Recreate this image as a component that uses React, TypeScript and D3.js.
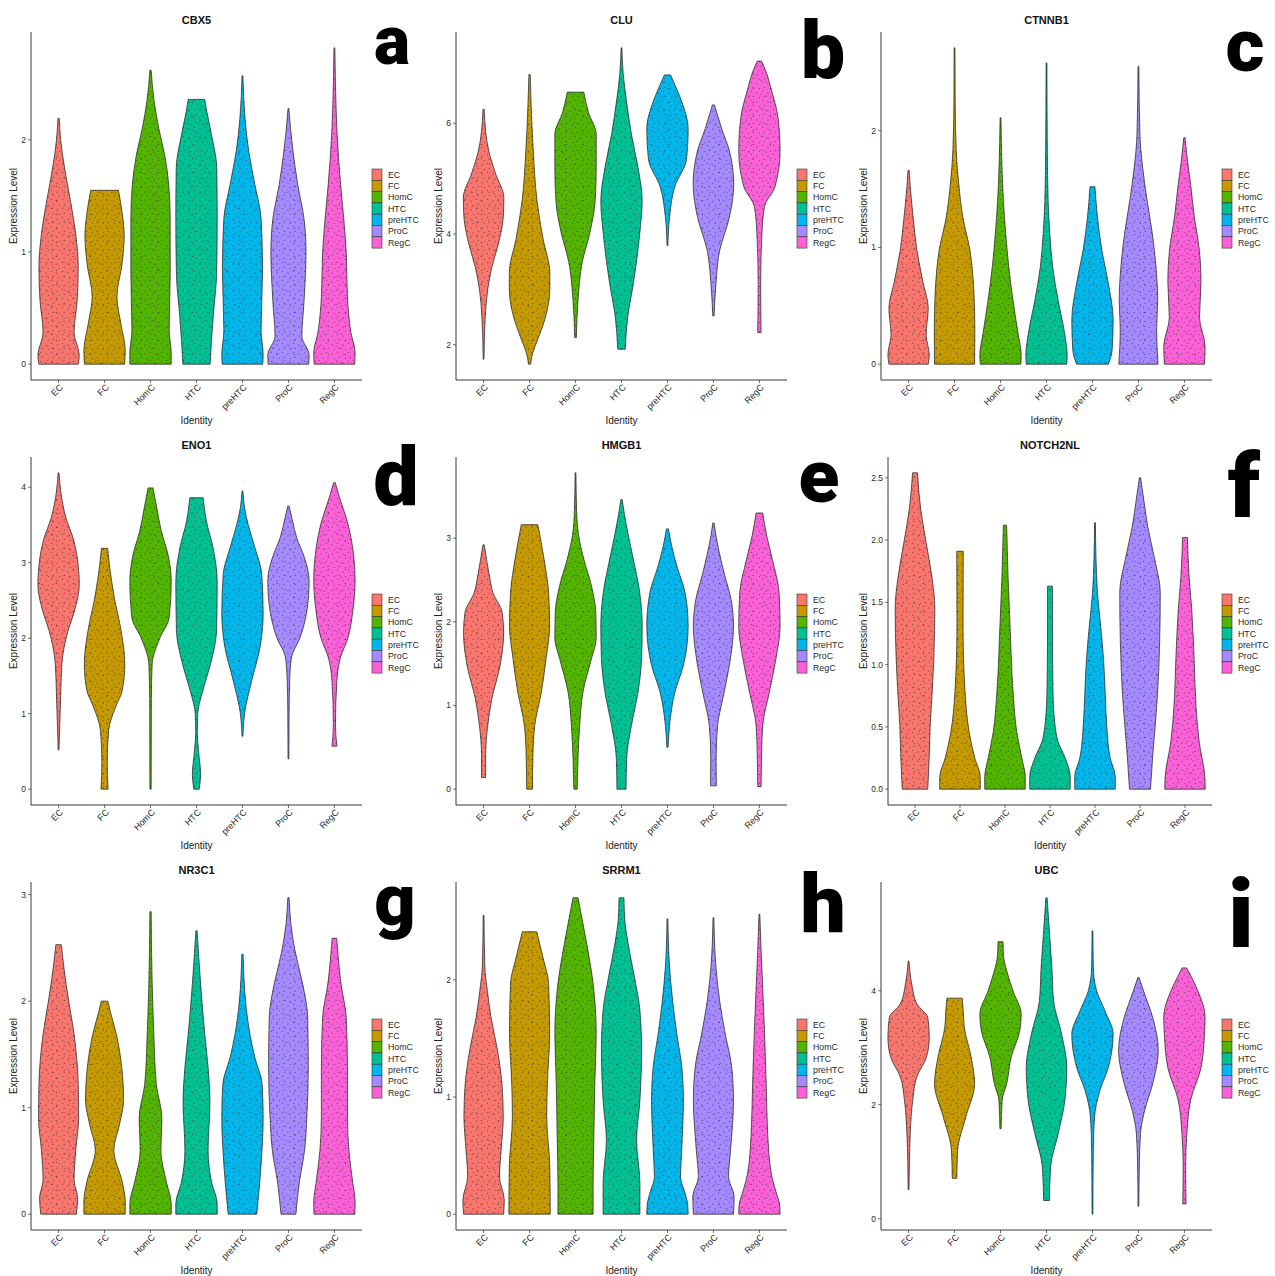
import React from "react";
import * as d3 from "d3";

// cell identities and ggplot default hue palette
const CELL_TYPES = ["EC", "FC", "HomC", "HTC", "preHTC", "ProC", "RegC"];
const CELL_COLORS = ["#F8766D", "#C49A00", "#53B400", "#00C094", "#00B6EB", "#A58AFF", "#FB61D7"];

const GENES = ["CBX5", "CLU", "CTNNB1", "ENO1", "HMGB1", "NOTCH2NL", "NR3C1", "SRRM1", "UBC"];
const PANEL_LETTERS = ["a", "b", "c", "d", "e", "f", "g", "h", "i"];
const Y_TICKS = [
  [0, 1, 2],
  [2, 4, 6],
  [0, 1, 2],
  [0, 1, 2, 3, 4],
  [0, 1, 2, 3],
  [0, 0.5, 1, 1.5, 2, 2.5],
  [0, 1, 2, 3],
  [0, 1, 2],
  [0, 2, 4],
];

// violin outlines, one per cell type: [expression level, relative half width], bottom -> top
const CBX5 = [
  [[0, 0.95], [0.08, 1.0], [0.28, 0.75], [0.57, 0.9], [0.87, 0.95], [1.16, 0.83], [1.46, 0.57], [1.76, 0.28], [2.0, 0.1], [2.19, 0.03]],
  [[0, 0.97], [0.12, 1.0], [0.35, 0.8], [0.6, 0.6], [0.9, 0.85], [1.15, 0.95], [1.35, 0.85], [1.55, 0.67]],
  [[0, 1.0], [0.1, 1.0], [0.3, 0.9], [0.8, 0.95], [1.3, 0.95], [1.6, 0.88], [1.85, 0.7], [2.1, 0.4], [2.35, 0.17], [2.62, 0.03]],
  [[0, 0.66], [0.2, 0.72], [0.45, 0.82], [0.8, 0.97], [1.3, 1.0], [1.75, 0.98], [2.05, 0.72], [2.25, 0.5], [2.36, 0.4]],
  [[0, 0.98], [0.08, 1.0], [0.3, 0.9], [0.85, 0.97], [1.3, 0.9], [1.6, 0.6], [1.9, 0.3], [2.2, 0.12], [2.57, 0.02]],
  [[0, 0.98], [0.08, 1.0], [0.25, 0.65], [0.55, 0.75], [1.0, 0.85], [1.3, 0.75], [1.6, 0.45], [1.9, 0.22], [2.1, 0.1], [2.28, 0.02]],
  [[0, 0.98], [0.1, 1.0], [0.28, 0.8], [0.6, 0.63], [1.0, 0.57], [1.3, 0.45], [1.6, 0.3], [2.05, 0.13], [2.5, 0.05], [2.82, 0.02]],
];

const CLU = [
  [[1.74, 0.02], [2.5, 0.08], [3.0, 0.2], [3.4, 0.4], [3.8, 0.7], [4.3, 0.95], [4.65, 0.98], [5.1, 0.57], [5.5, 0.25], [5.85, 0.1], [6.25, 0.03]],
  [[1.65, 0.05], [1.85, 0.15], [2.1, 0.4], [2.5, 0.77], [3.0, 0.98], [3.3, 0.98], [3.9, 0.66], [4.6, 0.36], [5.5, 0.18], [6.4, 0.07], [6.88, 0.03]],
  [[2.13, 0.04], [2.8, 0.12], [3.5, 0.33], [4.0, 0.68], [4.6, 0.95], [5.2, 1.0], [5.8, 1.0], [6.2, 0.62], [6.56, 0.4]],
  [[1.92, 0.18], [2.5, 0.3], [3.1, 0.57], [4.0, 0.88], [4.6, 1.0], [5.2, 0.8], [5.8, 0.48], [6.4, 0.24], [6.9, 0.08], [7.36, 0.02]],
  [[3.79, 0.02], [4.3, 0.1], [4.85, 0.35], [5.35, 0.92], [5.9, 1.0], [6.4, 0.68], [6.7, 0.35], [6.87, 0.15]],
  [[2.52, 0.03], [3.1, 0.12], [3.7, 0.3], [4.3, 0.77], [4.9, 0.98], [5.5, 0.77], [5.9, 0.4], [6.2, 0.15], [6.33, 0.05]],
  [[2.22, 0.08], [3.1, 0.06], [4.0, 0.12], [4.5, 0.25], [4.85, 0.75], [5.5, 1.0], [6.1, 0.9], [6.6, 0.58], [6.95, 0.3], [7.12, 0.1]],
];

const CTNNB1 = [
  [[0, 0.95], [0.08, 1.0], [0.25, 0.85], [0.48, 0.95], [0.7, 0.7], [0.98, 0.4], [1.26, 0.22], [1.52, 0.08], [1.66, 0.03]],
  [[0, 0.97], [0.3, 0.98], [0.6, 0.94], [0.98, 0.74], [1.26, 0.4], [1.55, 0.2], [1.83, 0.08], [2.26, 0.03], [2.71, 0.02]],
  [[0, 0.98], [0.08, 1.0], [0.26, 0.85], [0.55, 0.6], [0.83, 0.4], [1.12, 0.25], [1.4, 0.14], [1.69, 0.07], [2.11, 0.02]],
  [[0, 0.98], [0.08, 1.0], [0.26, 0.88], [0.55, 0.56], [0.83, 0.3], [1.12, 0.16], [1.4, 0.08], [1.83, 0.04], [2.58, 0.02]],
  [[0, 0.77], [0.12, 0.95], [0.38, 1.0], [0.69, 0.77], [0.98, 0.45], [1.26, 0.24], [1.52, 0.12]],
  [[0, 0.95], [0.15, 0.9], [0.3, 0.88], [0.55, 0.93], [0.83, 0.85], [1.12, 0.67], [1.4, 0.42], [1.69, 0.2], [1.97, 0.07], [2.55, 0.02]],
  [[0, 0.97], [0.15, 1.0], [0.4, 0.73], [0.7, 0.8], [0.98, 0.72], [1.26, 0.48], [1.54, 0.3], [1.74, 0.15], [1.94, 0.03]],
];

const ENO1 = [
  [[0.52, 0.02], [0.8, 0.05], [1.22, 0.1], [1.66, 0.16], [2.1, 0.46], [2.36, 0.77], [2.71, 1.0], [2.9, 0.97], [3.3, 0.73], [3.6, 0.35], [3.95, 0.1], [4.19, 0.02]],
  [[0, 0.17], [0.35, 0.13], [0.78, 0.2], [1.1, 0.55], [1.3, 0.85], [1.66, 0.98], [2.1, 0.8], [2.54, 0.47], [2.98, 0.23], [3.19, 0.15]],
  [[0, 0.03], [1.2, 0.04], [1.66, 0.08], [2.0, 0.45], [2.27, 0.9], [2.76, 1.0], [3.1, 0.85], [3.42, 0.52], [3.73, 0.3], [3.99, 0.12]],
  [[0, 0.13], [0.2, 0.2], [0.45, 0.12], [0.75, 0.04], [1.0, 0.06], [1.3, 0.3], [1.66, 0.68], [2.1, 0.97], [2.75, 1.0], [3.2, 0.8], [3.55, 0.48], [3.86, 0.32]],
  [[0.7, 0.02], [1.0, 0.1], [1.44, 0.45], [1.88, 0.85], [2.32, 1.0], [2.85, 0.93], [3.2, 0.6], [3.5, 0.28], [3.73, 0.1], [3.95, 0.02]],
  [[0.4, 0.02], [1.0, 0.03], [1.44, 0.06], [1.75, 0.15], [2.0, 0.55], [2.36, 0.89], [2.76, 1.0], [3.07, 0.77], [3.33, 0.4], [3.55, 0.2], [3.75, 0.03]],
  [[0.57, 0.12], [0.85, 0.05], [1.44, 0.12], [1.75, 0.3], [2.0, 0.65], [2.36, 0.89], [2.76, 1.0], [3.2, 0.88], [3.55, 0.62], [3.86, 0.25], [4.06, 0.04]],
];

const HMGB1 = [
  [[0.14, 0.1], [0.4, 0.1], [0.76, 0.2], [1.08, 0.4], [1.48, 0.8], [1.87, 0.97], [2.11, 0.9], [2.35, 0.45], [2.55, 0.28], [2.75, 0.14], [2.92, 0.03]],
  [[0, 0.14], [0.37, 0.16], [0.76, 0.25], [1.16, 0.57], [1.56, 0.8], [1.95, 0.97], [2.35, 0.92], [2.75, 0.7], [3.16, 0.4]],
  [[0, 0.08], [0.37, 0.12], [0.76, 0.2], [1.16, 0.36], [1.56, 0.77], [1.8, 1.0], [2.11, 0.98], [2.43, 0.77], [2.75, 0.4], [3.03, 0.15], [3.35, 0.05], [3.78, 0.02]],
  [[0, 0.22], [0.37, 0.25], [0.76, 0.48], [1.16, 0.8], [1.56, 0.97], [1.95, 1.0], [2.35, 0.88], [2.75, 0.57], [3.07, 0.3], [3.27, 0.15], [3.46, 0.03]],
  [[0.5, 0.03], [0.76, 0.1], [1.16, 0.36], [1.48, 0.77], [1.95, 1.0], [2.35, 0.85], [2.67, 0.45], [2.91, 0.2], [3.11, 0.05]],
  [[0.04, 0.14], [0.37, 0.13], [0.76, 0.2], [1.08, 0.45], [1.48, 0.77], [1.95, 0.97], [2.27, 0.85], [2.55, 0.55], [2.83, 0.28], [3.03, 0.12], [3.18, 0.03]],
  [[0.03, 0.08], [0.37, 0.1], [0.76, 0.16], [1.16, 0.48], [1.56, 0.8], [1.95, 1.0], [2.35, 0.95], [2.75, 0.62], [3.03, 0.35], [3.3, 0.16]],
];

const NOTCH2NL = [
  [[0, 0.63], [0.25, 0.7], [0.51, 0.75], [0.78, 0.85], [1.05, 0.93], [1.45, 0.98], [1.71, 0.83], [1.98, 0.55], [2.25, 0.28], [2.54, 0.12]],
  [[0, 1.0], [0.1, 1.0], [0.25, 0.73], [0.46, 0.45], [0.78, 0.25], [1.31, 0.15], [1.91, 0.16]],
  [[0, 1.0], [0.1, 1.0], [0.25, 0.83], [0.46, 0.58], [0.78, 0.4], [1.31, 0.25], [1.71, 0.15], [2.12, 0.08]],
  [[0, 1.0], [0.1, 1.0], [0.25, 0.75], [0.38, 0.4], [0.51, 0.25], [0.78, 0.15], [1.31, 0.12], [1.63, 0.12]],
  [[0, 1.0], [0.1, 1.0], [0.25, 0.75], [0.51, 0.58], [0.78, 0.5], [1.05, 0.42], [1.31, 0.28], [1.58, 0.12], [1.85, 0.05], [2.14, 0.02]],
  [[0, 0.52], [0.25, 0.62], [0.51, 0.75], [0.78, 0.87], [1.18, 0.97], [1.58, 1.0], [1.85, 0.72], [2.11, 0.38], [2.33, 0.18], [2.5, 0.03]],
  [[0, 1.0], [0.1, 0.98], [0.38, 0.7], [0.65, 0.55], [1.05, 0.45], [1.45, 0.33], [1.71, 0.2], [2.02, 0.12]],
];

const NR3C1 = [
  [[0, 0.86], [0.15, 0.92], [0.32, 0.75], [0.6, 0.83], [0.9, 0.97], [1.22, 0.95], [1.69, 0.75], [2.0, 0.49], [2.31, 0.26], [2.53, 0.13]],
  [[0, 1.0], [0.12, 1.0], [0.3, 0.86], [0.6, 0.45], [0.85, 0.73], [1.07, 0.92], [1.38, 0.83], [1.69, 0.57], [1.9, 0.28], [2.0, 0.16]],
  [[0, 1.0], [0.1, 1.0], [0.3, 0.77], [0.6, 0.5], [0.9, 0.55], [1.22, 0.28], [1.69, 0.16], [2.16, 0.08], [2.84, 0.03]],
  [[0, 1.0], [0.1, 1.0], [0.3, 0.73], [0.6, 0.56], [1.05, 0.65], [1.38, 0.56], [1.69, 0.4], [2.16, 0.2], [2.66, 0.03]],
  [[0, 0.69], [0.16, 0.77], [0.44, 0.89], [0.91, 1.0], [1.22, 0.95], [1.47, 0.6], [1.69, 0.36], [2.0, 0.15], [2.44, 0.03]],
  [[0, 0.36], [0.29, 0.52], [0.6, 0.78], [0.91, 0.89], [1.38, 0.96], [1.85, 0.93], [2.16, 0.69], [2.47, 0.32], [2.72, 0.12], [2.97, 0.03]],
  [[0, 0.99], [0.12, 1.0], [0.29, 0.89], [0.6, 0.7], [0.91, 0.63], [1.38, 0.63], [1.85, 0.57], [2.16, 0.32], [2.59, 0.11]],
];

const SRRM1 = [
  [[0, 0.97], [0.12, 1.0], [0.32, 0.77], [0.55, 0.85], [0.83, 0.95], [1.11, 0.89], [1.4, 0.67], [1.68, 0.36], [1.91, 0.18], [2.11, 0.06], [2.55, 0.02]],
  [[0, 1.0], [0.4, 0.98], [0.83, 0.83], [1.11, 0.86], [1.54, 0.97], [1.97, 0.92], [2.19, 0.65], [2.41, 0.35]],
  [[0, 0.85], [0.26, 0.85], [0.69, 0.89], [1.11, 0.93], [1.54, 1.0], [1.97, 0.85], [2.25, 0.6], [2.48, 0.36], [2.7, 0.12]],
  [[0, 0.89], [0.26, 0.89], [0.63, 0.73], [0.97, 0.89], [1.4, 0.97], [1.74, 0.89], [2.02, 0.63], [2.31, 0.32], [2.53, 0.15], [2.7, 0.12]],
  [[0, 1.0], [0.08, 0.98], [0.18, 0.85], [0.32, 0.63], [0.55, 0.69], [0.97, 0.77], [1.26, 0.69], [1.54, 0.45], [1.82, 0.25], [2.11, 0.1], [2.52, 0.02]],
  [[0, 0.97], [0.15, 1.0], [0.32, 0.73], [0.55, 0.83], [0.97, 0.97], [1.26, 0.88], [1.54, 0.57], [1.82, 0.3], [2.11, 0.12], [2.53, 0.02]],
  [[0, 1.0], [0.08, 0.98], [0.18, 0.82], [0.35, 0.57], [0.69, 0.4], [1.11, 0.33], [1.54, 0.25], [1.97, 0.15], [2.25, 0.08], [2.56, 0.02]],
];

const UBC = [
  [[0.51, 0.02], [1.0, 0.04], [1.5, 0.08], [2.08, 0.2], [2.49, 0.4], [2.84, 0.87], [3.18, 1.0], [3.53, 0.93], [3.77, 0.4], [4.12, 0.15], [4.52, 0.02]],
  [[0.71, 0.11], [1.2, 0.15], [1.79, 0.55], [2.37, 0.97], [2.84, 0.8], [3.36, 0.47], [3.65, 0.42], [3.87, 0.37]],
  [[1.58, 0.03], [2.08, 0.08], [2.37, 0.3], [2.84, 0.52], [3.3, 0.93], [3.59, 1.0], [4.0, 0.6], [4.35, 0.3], [4.6, 0.15], [4.86, 0.12]],
  [[0.32, 0.14], [0.91, 0.2], [1.5, 0.57], [2.08, 0.89], [2.66, 0.98], [3.24, 0.73], [3.83, 0.34], [4.41, 0.26], [4.99, 0.15], [5.63, 0.03]],
  [[0.08, 0.02], [1.2, 0.04], [1.79, 0.1], [2.25, 0.36], [2.66, 0.77], [3.24, 1.0], [3.65, 0.6], [4.0, 0.2], [4.41, 0.04], [5.05, 0.02]],
  [[0.22, 0.02], [0.91, 0.04], [1.5, 0.1], [1.9, 0.3], [2.37, 0.69], [2.95, 0.96], [3.53, 0.69], [3.94, 0.3], [4.23, 0.03]],
  [[0.26, 0.08], [0.91, 0.06], [1.5, 0.12], [2.08, 0.3], [2.66, 0.81], [3.24, 0.97], [3.53, 1.0], [4.0, 0.65], [4.23, 0.35], [4.4, 0.11]],
];

const PROFILES = [CBX5, CLU, CTNNB1, ENO1, HMGB1, NOTCH2NL, NR3C1, SRRM1, UBC];

// big panel letters: centre x, baseline y, font size (panel coordinates)
const LETTER_LAYOUT = [
  [392, 64, 68], [398, 78, 79], [395, 71, 75],
  [396, 80, 81], [394, 77, 75], [394, 92, 89],
  [395, 75, 72], [398, 82, 81], [391, 97, 94],
];

const PANEL_SIZE = 425;
const FONT = "'Liberation Sans', Arial, Helvetica, sans-serif";

function Panel({ index }: { index: number }) {
  const col = index % 3;
  const row = Math.floor(index / 3);
  const left = index === 5 ? 38 : 31;
  const right = 362;
  const top = 32;
  const bottom = 380;
  const profiles = PROFILES[index];

  const [mn, mx] = d3.extent(profiles.flat().map((p) => p[0])) as [number, number];
  const pad = (mx - mn) * 0.05;
  const y = d3.scaleLinear().domain([mn - pad, mx + pad]).range([bottom, top]);
  const x = d3.scalePoint().domain(CELL_TYPES).range([left, right]).padding(0.6);
  const hw = x.step() * 0.45;
  const fmt = index === 5 ? d3.format(".1f") : d3.format("d");
  const [lx, ly, ls] = LETTER_LAYOUT[index];

  const violins = profiles.map((prof, i) => {
    const cx = x(CELL_TYPES[i]) as number;
    const area = d3
      .area<number[]>()
      .y((d) => y(d[0]))
      .x0((d) => cx - d[1] * hw)
      .x1((d) => cx + d[1] * hw)
      .curve(d3.curveMonotoneY);
    const d = area(prof.slice().reverse()) || "";
    return (
      <g key={i}>
        <path d={d} fill={CELL_COLORS[i]} />
        <path d={d} fill="url(#speckA)" />
        <path d={d} fill="url(#speckB)" />
        <path d={d} fill="none" stroke="#262626" strokeWidth={0.75} />
      </g>
    );
  });

  return (
    <g transform={`translate(${col * PANEL_SIZE},${row * PANEL_SIZE})`} fontFamily={FONT}>
      <text x={(left + right) / 2} y={24} textAnchor="middle" fontSize={11} fontWeight="bold" fill="#111">
        {GENES[index]}
      </text>
      {violins}
      {/* axes */}
      <line x1={left} x2={left} y1={top} y2={bottom} stroke="#222" strokeWidth={0.9} />
      <line x1={left} x2={right} y1={bottom} y2={bottom} stroke="#222" strokeWidth={0.9} />
      {Y_TICKS[index].map((t) => (
        <g key={t}>
          <line x1={left - 3} x2={left} y1={y(t)} y2={y(t)} stroke="#333" strokeWidth={0.7} />
          <text x={left - 5} y={y(t) + 3} textAnchor="end" fontSize={8.5} fill="#2a2a2a">
            {fmt(t)}
          </text>
        </g>
      ))}
      {CELL_TYPES.map((c) => {
        const cx = x(c) as number;
        return (
          <g key={c}>
            <line x1={cx} x2={cx} y1={bottom} y2={bottom + 3} stroke="#333" strokeWidth={0.7} />
            <text
              transform={`translate(${cx + 5},${bottom + 8}) rotate(-45)`}
              textAnchor="end"
              fontSize={9}
              fill="#2a2a2a"
            >
              {c}
            </text>
          </g>
        );
      })}
      <text x={(left + right) / 2} y={424} textAnchor="middle" fontSize={10} fill="#222">
        Identity
      </text>
      <text
        transform={`translate(17,${(top + bottom) / 2}) rotate(-90)`}
        textAnchor="middle"
        fontSize={10}
        fill="#222"
      >
        Expression Level
      </text>
      {/* legend */}
      {CELL_TYPES.map((c, i) => (
        <g key={c}>
          <rect x={372} y={169 + i * 11.3} width={10} height={11.3} fill={CELL_COLORS[i]} stroke="#333" strokeWidth={0.6} />
          <text x={388} y={169 + i * 11.3 + 8.8} fontSize={8.8} fill="#2a2a2a">
            {c}
          </text>
        </g>
      ))}
      <text
        x={lx}
        y={ly}
        textAnchor="middle"
        fontSize={ls}
        fontWeight={900}
        fontFamily="Roboto, 'DejaVu Sans', sans-serif"
        fill="#000"
      >
        {PANEL_LETTERS[index]}
      </text>
    </g>
  );
}

export default function App() {
  return (
    <svg
      width={1275}
      height={1276}
      style={{ position: "absolute", left: 0, top: 0, background: "#fff" }}
    >
      <defs>
        <pattern id="speckA" width={11} height={9} patternUnits="userSpaceOnUse">
          <circle cx={2} cy={3} r={0.55} fill="#111" fillOpacity={0.75} />
          <circle cx={7.5} cy={1.2} r={0.5} fill="#111" fillOpacity={0.7} />
          <circle cx={9.2} cy={6.3} r={0.55} fill="#111" fillOpacity={0.75} />
          <circle cx={4.3} cy={7.6} r={0.5} fill="#111" fillOpacity={0.65} />
        </pattern>
        <pattern id="speckB" width={17} height={14} patternUnits="userSpaceOnUse">
          <circle cx={5.3} cy={4.4} r={0.55} fill="#111" fillOpacity={0.7} />
          <circle cx={13.1} cy={10.2} r={0.5} fill="#111" fillOpacity={0.65} />
          <circle cx={1.2} cy={12.1} r={0.55} fill="#111" fillOpacity={0.7} />
        </pattern>
      </defs>
      <rect width={1275} height={1276} fill="#fff" />
      {GENES.map((g, i) => (
        <Panel key={g} index={i} />
      ))}
    </svg>
  );
}
